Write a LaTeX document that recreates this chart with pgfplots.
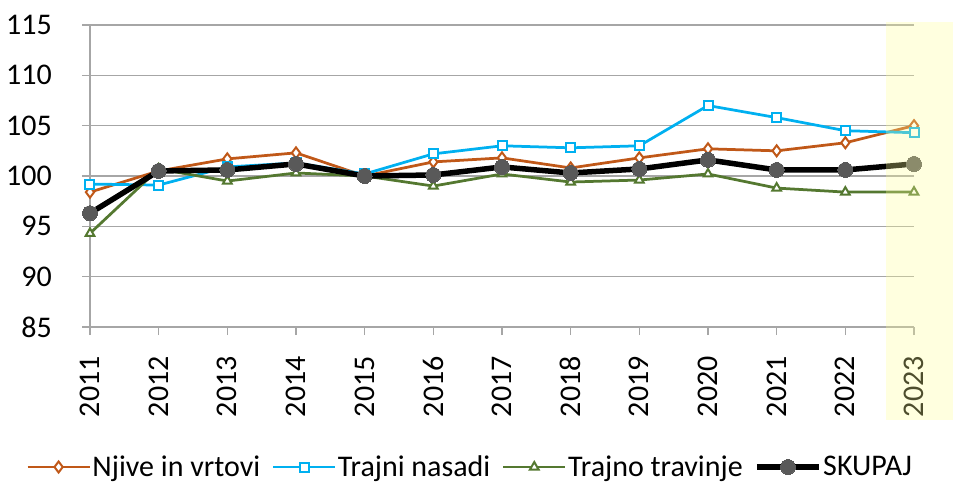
\documentclass[border=0pt]{standalone}
\usepackage{fontspec}
\setmainfont{Carlito}
\usepackage{pgfplots}
\pgfplotsset{compat=1.18}
\definecolor{cNj}{RGB}{192,88,24}
\definecolor{cTn}{RGB}{0,176,240}
\definecolor{cTt}{RGB}{84,120,48}
\definecolor{cSk}{RGB}{89,89,89}
\definecolor{cGrid}{RGB}{166,166,166}
\definecolor{cHi}{RGB}{255,255,150}
\begin{document}
\begin{tikzpicture}
\begin{axis}[name=ax, scale only axis, width=824pt, height=302pt,
  xmin=2011, xmax=2023, ymin=85, ymax=115,
  xtick={2011,2012,...,2023}, ytick={85,90,...,115},
  ymajorgrids, major grid style={cGrid, line width=1.3pt},
  axis x line*=bottom, axis y line*=left,
  axis line style={cGrid, line width=1.3pt},
  tick align=outside, major tick length=8pt,
  tick style={cGrid, line width=1.3pt},
  font=\fontsize{30}{36}\selectfont,
  /pgf/number format/assume math mode=true,
  /pgf/number format/1000 sep={},
  xticklabel style={rotate=90, anchor=east, inner xsep=21pt, inner ysep=0pt},
  yticklabel style={anchor=east, inner xsep=30pt, inner ysep=0pt},
  clip=false,
  legend columns=4,
  legend style={draw=none, fill=none, at={(0.461,-0.4636)}, anchor=center,
    /tikz/every even column/.append style={column sep=10pt},
    nodes={inner sep=1.5pt}, font=\fontsize{30}{36}\selectfont},
  legend image code/.code={\draw[mark repeat=2,mark phase=2,#1] plot coordinates {(0pt,0pt) (31pt,0pt) (62pt,0pt)};},
]
\addplot[cNj, line width=2.75pt, mark=diamond*, mark size=5.5pt, mark options={fill=white, line width=2pt}]
coordinates {(2011,98.4) (2012,100.5) (2013,101.7) (2014,102.3) (2015,100.0) (2016,101.4) (2017,101.8) (2018,100.8) (2019,101.8) (2020,102.7) (2021,102.5) (2022,103.3) (2023,105.0)};
\addlegendentry{Njive in vrtovi}
\addplot[cTn, line width=2.75pt, mark=square*, mark size=4.5pt, mark options={fill=white, line width=2pt}]
coordinates {(2011,99.2) (2012,99.1) (2013,100.9) (2014,101.3) (2015,100.2) (2016,102.2) (2017,103.0) (2018,102.8) (2019,103.0) (2020,107.0) (2021,105.8) (2022,104.5) (2023,104.3)};
\addlegendentry{Trajni nasadi}
\addplot[cTt, line width=2.75pt, mark=triangle*, mark size=5pt, mark options={fill=white, line width=2pt}]
coordinates {(2011,94.3) (2012,100.7) (2013,99.5) (2014,100.3) (2015,100.0) (2016,99.0) (2017,100.2) (2018,99.4) (2019,99.6) (2020,100.2) (2021,98.8) (2022,98.4) (2023,98.4)};
\addlegendentry{Trajno travinje}
\addplot[black, line width=5.5pt, mark=*, mark size=7.5pt, mark options={fill=cSk, draw=cSk, line width=0pt}]
coordinates {(2011,96.3) (2012,100.5) (2013,100.6) (2014,101.2) (2015,100.0) (2016,100.1) (2017,100.9) (2018,100.3) (2019,100.7) (2020,101.6) (2021,100.6) (2022,100.6) (2023,101.2)};
\addlegendentry{SKUPAJ}
\end{axis}
\fill[cHi, opacity=0.3] ([xshift=796pt,yshift=3pt]ax.north west) rectangle ([xshift=863pt,yshift=-395pt]ax.north west);
\pgfresetboundingbox
\path[use as bounding box] ([xshift=-90pt,yshift=25pt]ax.north west) rectangle ([xshift=863pt,yshift=-466pt]ax.north west);
\end{tikzpicture}
\end{document}
